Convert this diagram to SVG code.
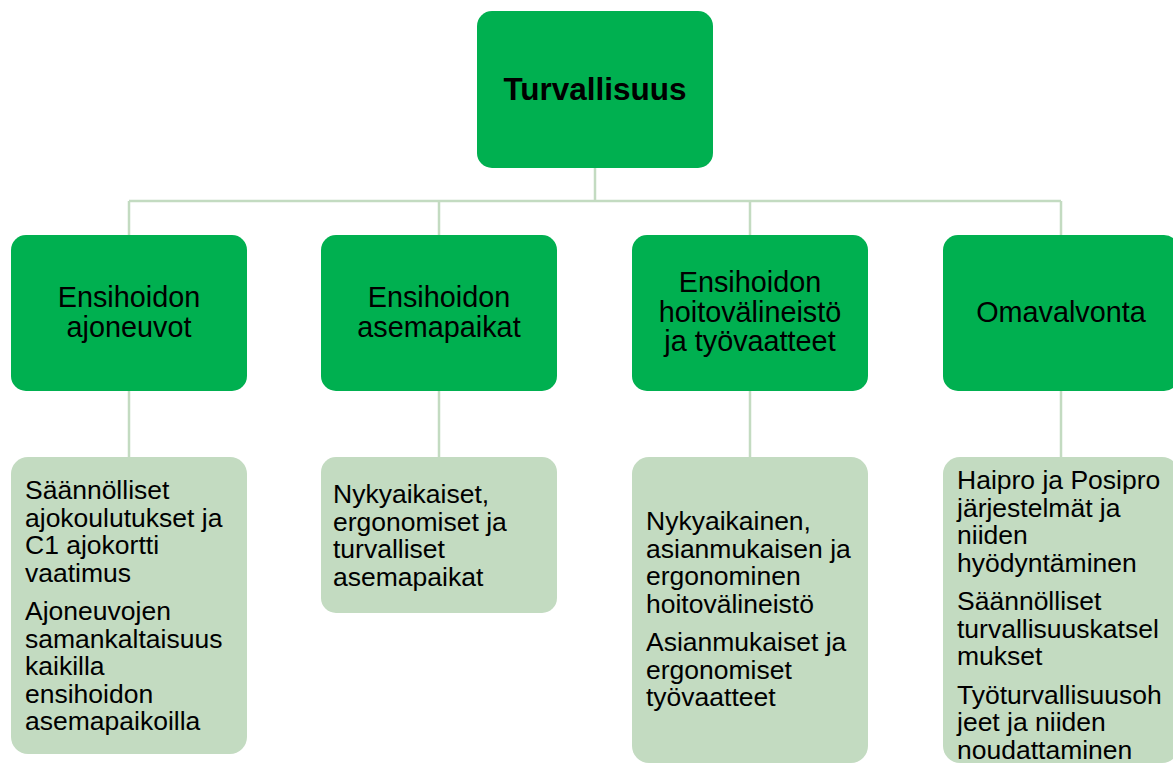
<svg xmlns="http://www.w3.org/2000/svg" width="1173" height="763" viewBox="0 0 1173 763">
<style>
.dark{fill:#00b050;}
.light{fill:#c3dbc1;}
.conn{stroke:#c3dbc1;stroke-width:2.5;fill:none;}
text{font-family:"Liberation Sans",Arial,sans-serif;fill:#000;}
.t1{font-size:31.5px;font-weight:bold;text-anchor:middle;}
.t2{font-size:28.8px;text-anchor:middle;}
.t3{font-size:26.5px;}
</style>
<rect width="1173" height="763" fill="#ffffff"/>
<g id="connectors">
<path class="conn" d="M595 168V201M129 201H1061M129 201V235M439 201V235M750 201V235M1061 201V235"/>
<path class="conn" d="M129 391V457M439 391V457M750 391V457M1061 391V457"/>
</g>
<g id="root">
<rect class="dark" x="477" y="11" width="236" height="157" rx="15"/>
<text class="t1" x="595" y="100">Turvallisuus</text>
</g>
<g id="n1">
<rect class="dark" x="11" y="235" width="236" height="156" rx="15"/>
<text class="t2" x="129" y="307">Ensihoidon</text>
<text class="t2" x="129" y="337">ajoneuvot</text>
</g>
<g id="n2">
<rect class="dark" x="321" y="235" width="236" height="156" rx="15"/>
<text class="t2" x="439" y="307">Ensihoidon</text>
<text class="t2" x="439" y="337">asemapaikat</text>
</g>
<g id="n3">
<rect class="dark" x="632" y="235" width="236" height="156" rx="15"/>
<text class="t2" x="750" y="292">Ensihoidon</text>
<text class="t2" x="750" y="321.5">hoitovälineistö</text>
<text class="t2" x="750" y="351">ja työvaatteet</text>
</g>
<g id="n4">
<rect class="dark" x="943" y="235" width="236" height="156" rx="15"/>
<text class="t2" x="1061" y="322">Omavalvonta</text>
</g>
<g id="d1">
<rect class="light" x="11" y="457" width="236" height="297" rx="17"/>
<text class="t3" x="25" y="499">Säännölliset</text>
<text class="t3" x="25" y="526.5">ajokoulutukset ja</text>
<text class="t3" x="25" y="554">C1 ajokortti</text>
<text class="t3" x="25" y="581.5">vaatimus</text>
<text class="t3" x="25" y="620">Ajoneuvojen</text>
<text class="t3" x="25" y="647.5">samankaltaisuus</text>
<text class="t3" x="25" y="675">kaikilla</text>
<text class="t3" x="25" y="702.5">ensihoidon</text>
<text class="t3" x="25" y="730">asemapaikoilla</text>
</g>
<g id="d2">
<rect class="light" x="321" y="457" width="236" height="156" rx="15"/>
<text class="t3" x="333" y="503">Nykyaikaiset,</text>
<text class="t3" x="333" y="530.5">ergonomiset ja</text>
<text class="t3" x="333" y="558">turvalliset</text>
<text class="t3" x="333" y="585.5">asemapaikat</text>
</g>
<g id="d3">
<rect class="light" x="632" y="457" width="236" height="306" rx="17"/>
<text class="t3" x="646" y="530">Nykyaikainen,</text>
<text class="t3" x="646" y="557.5">asianmukaisen ja</text>
<text class="t3" x="646" y="585">ergonominen</text>
<text class="t3" x="646" y="612.5">hoitovälineistö</text>
<text class="t3" x="646" y="651">Asianmukaiset ja</text>
<text class="t3" x="646" y="678.5">ergonomiset</text>
<text class="t3" x="646" y="706">työvaatteet</text>
</g>
<g id="d4">
<rect class="light" x="943" y="457" width="236" height="306" rx="17"/>
<text class="t3" x="957" y="489">Haipro ja Posipro</text>
<text class="t3" x="957" y="516.5">järjestelmät ja</text>
<text class="t3" x="957" y="544">niiden</text>
<text class="t3" x="957" y="571.5">hyödyntäminen</text>
<text class="t3" x="957" y="610">Säännölliset</text>
<text class="t3" x="957" y="637.5">turvallisuuskatsel</text>
<text class="t3" x="957" y="665">mukset</text>
<text class="t3" x="957" y="703.5">Työturvallisuusoh</text>
<text class="t3" x="957" y="731">jeet ja niiden</text>
<text class="t3" x="957" y="758.5">noudattaminen</text>
</g>
</svg>
